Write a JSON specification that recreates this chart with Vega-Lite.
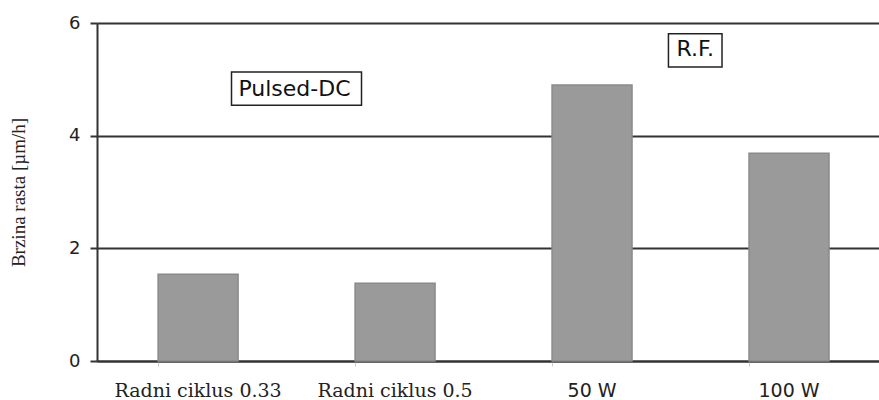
{
  "$schema": "https://vega.github.io/schema/vega-lite/v6.json",
  "autosize": "none",
  "padding": {"left": 97, "top": 23, "right": 0, "bottom": 39},
  "width": 782,
  "height": 338,
  "background": "white",
  "config": {"view": {"stroke": null}},
  "datasets": {
    "bars": [
      {"uvjet": "Radni ciklus 0.33", "brzina": 1.54},
      {"uvjet": "Radni ciklus 0.5", "brzina": 1.38},
      {"uvjet": "50 W", "brzina": 4.9},
      {"uvjet": "100 W", "brzina": 3.69}
    ],
    "notes": [
      {"tekst": "Pulsed-DC", "x": 1.01, "x0": 0.688, "x1": 1.353, "y": 4.83, "y0": 4.54, "y1": 5.13},
      {"tekst": "R.F.", "x": 3.06, "x0": 2.923, "x1": 3.197, "y": 5.53, "y0": 5.22, "y1": 5.81}
    ]
  },
  "layer": [
    {
      "data": {"name": "bars"},
      "mark": {"type": "bar", "color": "#9a9a9a", "stroke": "#8a8a8a", "strokeWidth": 1.5},
      "encoding": {
        "x": {
          "field": "uvjet", "type": "nominal", "sort": null,
          "scale": {"paddingInner": 0.594, "paddingOuter": 0.282, "align": 0.55},
          "axis": {
            "title": null, "labelAngle": 0, "domainColor": "#333", "domainWidth": 2,
            "tickColor": "#ccc", "tickSize": 5, "bandPosition": 0,
            "labelPadding": 15, "labelColor": "#222", "labelFontSize": 19,
            "labelFont": {"expr": "datum.value == '50 W' || datum.value == '100 W' ? 'DejaVu Sans' : 'DejaVu Serif'"}
          }
        },
        "y": {
          "field": "brzina", "type": "quantitative",
          "scale": {"domain": [0, 6], "nice": false},
          "axis": {
            "title": "Brzina rasta [µm/h]", "titleFont": "Liberation Serif", "titleFontSize": 19,
            "titleFontWeight": "normal", "titleColor": "#222", "titlePadding": 40,
            "values": [0, 2, 4, 6], "format": "d", "grid": true, "gridColor": "#333", "gridWidth": 2,
            "domainColor": "#333", "domainWidth": 2, "tickColor": "#333", "tickWidth": 2, "tickSize": 7,
            "labelFont": "DejaVu Sans", "labelFontSize": 18, "labelColor": "#222", "labelPadding": 10
          }
        }
      }
    },
    {
      "data": {"name": "notes"},
      "mark": {"type": "rect", "fill": "white", "stroke": "#222", "strokeWidth": 1.5},
      "encoding": {
        "x": {"field": "x0", "type": "quantitative", "scale": {"domain": [0, 4], "nice": false}, "axis": null},
        "x2": {"field": "x1"},
        "y": {"field": "y0", "type": "quantitative"},
        "y2": {"field": "y1"}
      }
    },
    {
      "data": {"name": "notes"},
      "mark": {"type": "text", "font": "DejaVu Sans", "fontSize": 22, "color": "#111", "align": "center", "baseline": "middle"},
      "encoding": {
        "x": {"field": "x", "type": "quantitative", "scale": {"domain": [0, 4], "nice": false}, "axis": null},
        "y": {"field": "y", "type": "quantitative"},
        "text": {"field": "tekst"}
      }
    }
  ],
  "resolve": {"scale": {"x": "independent"}}
}
